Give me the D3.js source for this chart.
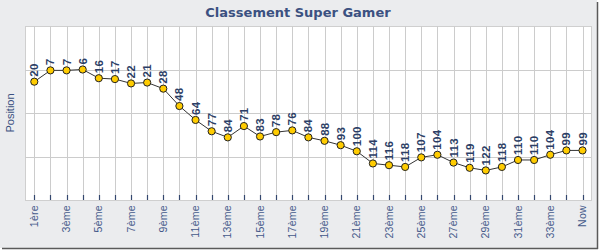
<!DOCTYPE html>
<html>
<head>
<meta charset="utf-8">
<script src="https://cdn.jsdelivr.net/npm/d3@7"></script>
<style>
  body { margin: 0; background: #fff; }
  svg { display: block; }
</style>
</head>
<body>
<div id="chart"></div>
<script>
// ranking positions, 35 rounds
var labels = ["1ère","2ème","3ème","4ème","5ème","6ème","7ème","8ème","9ème","10ème",
  "11ème","12ème","13ème","14ème","15ème","16ème","17ème","18ème","19ème","20ème",
  "21ème","22ème","23ème","24ème","25ème","26ème","27ème","28ème","29ème","30ème",
  "31ème","32ème","33ème","34ème","Now"];
var positions = [20,7,7,6,16,17,22,21,28,48,64,77,84,71,83,78,76,84,88,93,100,114,116,118,107,104,113,119,122,118,110,110,104,99,99];
var yTicks = [6, 56, 106];

var W = 600, H = 250;
var plot = {left: 25, top: 26, right: 591, bottom: 200};
var navy = "#34476e";

var svg = d3.select("#chart").append("svg").attr("width", W).attr("height", H);

// background + shadow border
svg.append("rect").attr("x", 0).attr("y", 0).attr("width", 597).attr("height", 248).attr("fill", "#ebecee");
svg.append("line").attr("x1", 597.5).attr("x2", 597.5).attr("y1", 2).attr("y2", 249).attr("stroke", "#5a5a5a").attr("stroke-width", 1.5);
svg.append("line").attr("x1", 2).attr("x2", 598).attr("y1", 248.5).attr("y2", 248.5).attr("stroke", "#5a5a5a").attr("stroke-width", 1.5);

// title
svg.append("text").attr("x", 298).attr("y", 17).attr("text-anchor", "middle")
  .style("font-family", "DejaVu Sans").style("font-weight", "bold").style("font-size", "13px")
  .attr("fill", "#3b5181").text("Classement Super Gamer");

// scales
var x = d3.scalePoint().domain(labels).range([34.3, 582.5]);
var y = d3.scaleLinear().domain([-44, 156]).range([plot.top, plot.bottom]);

// plot area
svg.append("rect").attr("x", plot.left + 0.5).attr("y", plot.top + 0.5)
  .attr("width", plot.right - plot.left).attr("height", plot.bottom - plot.top)
  .attr("fill", "#fff").attr("stroke", "#cfcfcf");

// grid
svg.append("g").selectAll("line").data(yTicks).enter().append("line")
  .attr("x1", plot.left).attr("x2", plot.right)
  .attr("y1", d => Math.round(y(d)) + 0.5).attr("y2", d => Math.round(y(d)) + 0.5)
  .attr("stroke", "#cccccc");
svg.append("g").selectAll("line").data(labels).enter().append("line")
  .attr("x1", d => Math.round(x(d)) + 0.5).attr("x2", d => Math.round(x(d)) + 0.5)
  .attr("y1", plot.top).attr("y2", plot.bottom)
  .attr("stroke", "#cccccc");

// small ticks at bottom
svg.append("g").selectAll("line").data(labels).enter().append("line")
  .attr("x1", d => Math.round(x(d)) + 0.5).attr("x2", d => Math.round(x(d)) + 0.5)
  .attr("y1", plot.bottom - 5).attr("y2", plot.bottom)
  .attr("stroke", navy).attr("stroke-width", 1.2);

// x labels, every other one
svg.append("g").selectAll("text").data(labels.filter((d, i) => i % 2 == 0)).enter().append("text")
  .attr("transform", d => "translate(" + x(d) + ",205) rotate(-90)")
  .attr("text-anchor", "end").attr("dy", "0.35em")
  .style("font-family", "Liberation Sans").style("font-size", "10.5px")
  .style("letter-spacing", "0.3px")
  .attr("fill", "#44598a").text(d => d);

// y title
svg.append("text").attr("transform", "translate(14,113) rotate(-90)")
  .attr("text-anchor", "middle")
  .style("font-family", "Liberation Sans").style("font-size", "11px")
  .attr("fill", "#3b5181").text("Position");

// line
var line = d3.line().x((d, i) => x(labels[i])).y(d => y(d));
svg.append("path").datum(positions).attr("d", line)
  .attr("fill", "none").attr("stroke", "#333").attr("stroke-width", 1);

// markers
svg.append("g").selectAll("circle").data(positions).enter().append("circle")
  .attr("cx", (d, i) => x(labels[i])).attr("cy", d => y(d)).attr("r", 3.6)
  .attr("fill", "#ffcc00").attr("stroke", "#222").attr("stroke-width", 1);

// value labels
svg.append("g").selectAll("text").data(positions).enter().append("text")
  .attr("transform", (d, i) => "translate(" + x(labels[i]) + "," + (y(d) - 5) + ") rotate(-90)")
  .attr("text-anchor", "start").attr("dy", "0.35em")
  .style("font-family", "Liberation Sans").style("font-weight", "bold").style("font-size", "11.5px")
  .style("letter-spacing", "0.3px")
  .attr("fill", "#2c3e66").text(d => d);
</script>
</body>
</html>
